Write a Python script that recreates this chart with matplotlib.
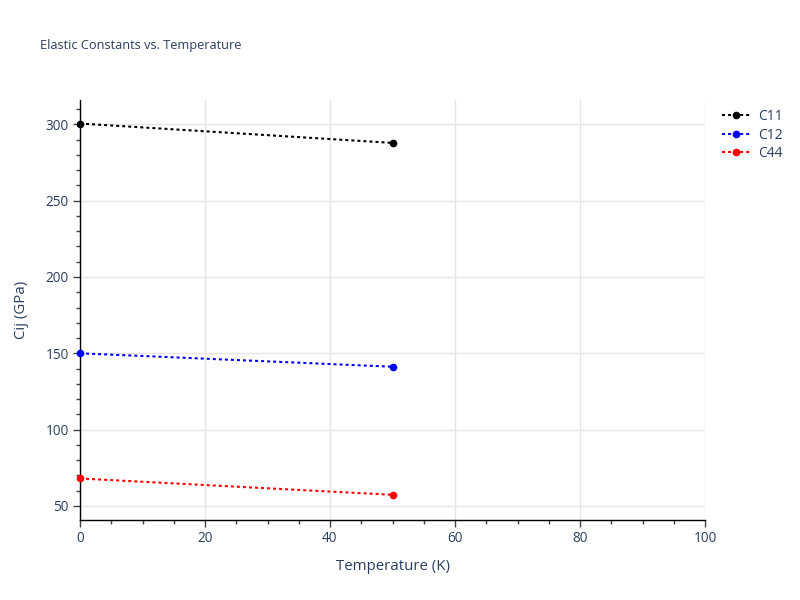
import numpy as np
import matplotlib
matplotlib.use("Agg")
import matplotlib.pyplot as plt
from matplotlib.ticker import MultipleLocator

plt.rcParams['font.family'] = ['Open Sans', 'DejaVu Sans']

temps = [0, 50]
c11 = [300.5, 287.8]
c12 = [150.0, 141.2]
c44 = [68.0, 57.3]
names = ["C11", "C12", "C44"]
colors = ["black", "blue", "red"]

txt = "#2a3f5f"
grid = "#e5e5e5"

fig = plt.figure(figsize=(8, 6), dpi=100)
ax = fig.add_axes([0.1, 0.1333, 0.78125, 0.7])

for vals, name, c in zip([c11, c12, c44], names, colors):
    ax.plot(temps, vals, color=c, lw=1.5, ls=(0, (1.45, 1.45)),
            marker="o", ms=4.5, label=name, clip_on=False, zorder=3)

ax.set_xlim(0, 100)
ax.set_ylim(40.8, 315.9)
ax.xaxis.set_major_locator(MultipleLocator(20))
ax.xaxis.set_minor_locator(MultipleLocator(5))
ax.yaxis.set_major_locator(MultipleLocator(50))
ax.yaxis.set_minor_locator(MultipleLocator(10))
ax.grid(True, which="major", color=grid, lw=1)
ax.set_axisbelow(True)

for s in ["top", "right"]:
    ax.spines[s].set_visible(False)
for s in ["left", "bottom"]:
    ax.spines[s].set_color("black")
    ax.spines[s].set_linewidth(1)

ax.tick_params(which="major", length=5, width=1, color="#444444",
               labelcolor=txt, labelsize=9.8, pad=3)
ax.tick_params(which="minor", length=3, width=1, color="#444444")

ax.set_xlabel("Temperature (K)", color=txt, fontsize=10.8, labelpad=9)
ax.set_ylabel("Cij (GPa)", color=txt, fontsize=10.8, labelpad=12)

fig.text(0.05, 0.924, "Elastic Constants vs. Temperature", color=txt,
         fontsize=9.2, va="center", ha="left")

ax.legend(loc="upper left", bbox_to_anchor=(1.01, 1.005), frameon=False,
          fontsize=10, labelcolor=txt, handlelength=2.0, borderpad=0.3,
          labelspacing=0.25, handletextpad=0.6)

fig.savefig("out.png", dpi=100)
